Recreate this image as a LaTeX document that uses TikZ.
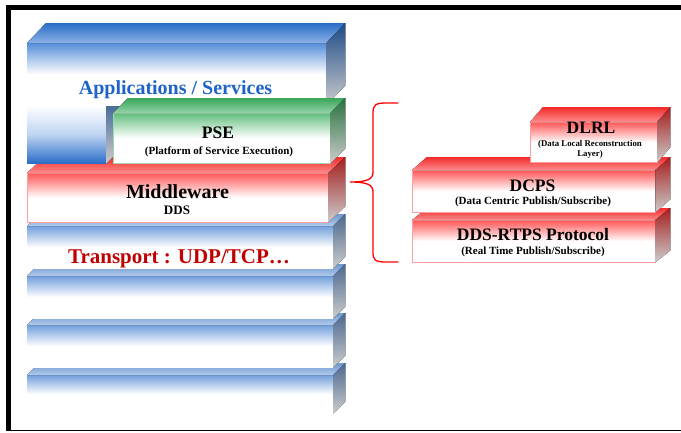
\documentclass[tikz,border=0pt]{standalone}
\usepackage{fontspec}
\setmainfont{Liberation Serif}
\usepackage{tikz}
\usetikzlibrary{positioning}
\definecolor{appblue}{RGB}{45,115,210}
\definecolor{slabblue}{RGB}{115,160,220}
\definecolor{textblue}{RGB}{30,100,200}
\definecolor{psegreen}{RGB}{60,175,95}
\definecolor{layred}{RGB}{255,45,45}
\definecolor{darkred}{RGB}{192,0,0}
\tikzset{
    %front faces of the layers
    bluefront/.style={
           rectangle,
           inner sep=0pt,
           anchor=north west,
           top color=slabblue,
           bottom color=white,
           middle color=white},
    redfront/.style={
           rectangle,
           inner sep=0pt,
           anchor=north west,
           top color=layred!80,
           bottom color=white,
           middle color=white,
           draw=layred!45},
    greenfront/.style={
           rectangle,
           inner sep=0pt,
           anchor=north west,
           top color=psegreen!80,
           bottom color=white,
           middle color=white,
           draw=psegreen!50},
    %top and side faces
    topface/.style={
           top color=#1!95!black,
           bottom color=#1!55},
    sideface/.style={
           top color=#1!65!black,
           bottom color=black!20},
    %texts
    bigtxt/.style={
           inner sep=0pt,
           anchor=base,
           font=\bfseries\fontsize{20}{22}\selectfont},
    midtxt/.style={
           inner sep=0pt,
           anchor=base,
           font=\bfseries\fontsize{17.5}{20}\selectfont},
    smalltxt/.style={
           inner sep=0pt,
           anchor=base,
           font=\bfseries\fontsize{11}{12}\selectfont},
    tinytxt/.style={
           inner sep=0pt,
           anchor=base,
           font=\bfseries\fontsize{8.8}{10}\selectfont},
    bracket/.style={
           draw=red,
           line width=1.3pt,
           line cap=round}
}
\begin{document}
\begin{tikzpicture}[x=1pt,y=-1pt]
\useasboundingbox (0,0) rectangle (681,432);
%frame
\fill[black] (6,5) rectangle (681,10);
\fill[black] (6,5) rectangle (11,431);
\draw[black,line width=1pt] (6,430.5) -- (681,430.5);

%transport layers, lowest first
\node[bluefront, minimum width=306pt, minimum height=38pt] (slab4) at (27,375) {};
\fill[topface=slabblue] (slab4.north west) -- ++(12,-12) -- ([shift={(12,-12)}]slab4.north east) -- (slab4.north east) -- cycle;
\fill[sideface=slabblue] (slab4.north east) -- ++(12,-12) -- ([shift={(12,-12)}]slab4.south east) -- (slab4.south east) -- cycle;

\node[bluefront, minimum width=306pt, minimum height=42pt] (slab3) at (27,325) {};
\fill[topface=slabblue] (slab3.north west) -- ++(12,-12) -- ([shift={(12,-12)}]slab3.north east) -- (slab3.north east) -- cycle;
\fill[sideface=slabblue] (slab3.north east) -- ++(12,-12) -- ([shift={(12,-12)}]slab3.south east) -- (slab3.south east) -- cycle;

\node[bluefront, minimum width=306pt, minimum height=42pt] (slab2) at (27,276) {};
\fill[topface=slabblue] (slab2.north west) -- ++(12,-12) -- ([shift={(12,-12)}]slab2.north east) -- (slab2.north east) -- cycle;
\fill[sideface=slabblue] (slab2.north east) -- ++(12,-12) -- ([shift={(12,-12)}]slab2.south east) -- (slab2.south east) -- cycle;

\node[bluefront, minimum width=306pt, minimum height=42pt] (slab1) at (27,226) {};
\fill[topface=slabblue] (slab1.north west) -- ++(12,-12) -- ([shift={(12,-12)}]slab1.north east) -- (slab1.north east) -- cycle;
\fill[sideface=slabblue] (slab1.north east) -- ++(12,-12) -- ([shift={(12,-12)}]slab1.south east) -- (slab1.south east) -- cycle;

%middleware
\node[redfront, minimum width=301pt, minimum height=49pt] (mw) at (27,173) {};
\fill[topface=layred] (mw.north west) -- ++(17,-16) -- ([shift={(17,-16)}]mw.north east) -- (mw.north east) -- cycle;
\fill[sideface=layred] (mw.north east) -- ++(17,-16) -- ([shift={(17,-16)}]mw.south east) -- (mw.south east) -- cycle;

%applications, leg and upper bar
\node[rectangle, inner sep=0pt, anchor=north west, top color=white, bottom color=appblue!95!black, middle color=appblue!30,
      minimum width=79pt, minimum height=58pt] (appleg) at (27,105) {};
\fill[sideface=appblue] (appleg.north east) -- (appleg.south east) -- ++(19,-19) -- ([shift={(19,-19)}]appleg.north east) -- cycle;
\node[rectangle, inner sep=0pt, anchor=north west, top color=appblue!80, bottom color=white, middle color=white,
      minimum width=299pt, minimum height=62pt] (app) at (27,43) {};
\fill[topface=appblue] (app.north west) -- ++(19,-20) -- ([shift={(19,-20)}]app.north east) -- (app.north east) -- cycle;
\fill[sideface=appblue] (app.north east) -- ++(19,-20) -- ([shift={(19,-20)}]app.south east) -- (app.south east) -- cycle;

%pse
\node[greenfront, minimum width=217pt, minimum height=50pt] (pse) at (113,113) {};
\fill[topface=psegreen] (pse.north west) -- ++(15,-15) -- ([shift={(15,-15)}]pse.north east) -- (pse.north east) -- cycle;
\fill[sideface=psegreen] (pse.north east) -- ++(15,-15) -- ([shift={(15,-15)}]pse.south east) -- (pse.south east) -- cycle;

%dds stack
\node[redfront, minimum width=243pt, minimum height=42pt] (rtps) at (412,220) {};
\fill[topface=layred] (rtps.north west) -- ++(15,-12) -- ([shift={(15,-12)}]rtps.north east) -- (rtps.north east) -- cycle;
\fill[sideface=layred] (rtps.north east) -- ++(15,-12) -- ([shift={(15,-12)}]rtps.south east) -- (rtps.south east) -- cycle;

\node[redfront, minimum width=243pt, minimum height=42pt] (dcps) at (412,170) {};
\fill[topface=layred] (dcps.north west) -- ++(15,-13) -- ([shift={(15,-13)}]dcps.north east) -- (dcps.north east) -- cycle;
\fill[sideface=layred] (dcps.north east) -- ++(15,-13) -- ([shift={(15,-13)}]dcps.south east) -- (dcps.south east) -- cycle;

\node[redfront, minimum width=127pt, minimum height=40pt] (dlrl) at (530,122) {};
\fill[topface=layred] (dlrl.north west) -- ++(13,-15) -- ([shift={(13,-15)}]dlrl.north east) -- (dlrl.north east) -- cycle;
\fill[sideface=layred] (dlrl.north east) -- ++(13,-15) -- ([shift={(13,-15)}]dlrl.south east) -- (dlrl.south east) -- cycle;

%brace
\draw[bracket] (398,103) -- (386,103) .. controls (375,103) and (373,105) .. (373,114)
    -- (373,172) .. controls (373,179) and (368,182) .. (350,182)
    .. controls (368,182) and (373,185) .. (373,192)
    -- (373,252) .. controls (373,260) and (375,262) .. (386,262) -- (398,262);

%labels
\node[bigtxt, text=textblue] (apptxt) at (175.5,94) {Applications / Services};
\node[midtxt] (psetxt) at (218,138) {PSE};
\node[smalltxt] (psesub) at (219,154) {(Platform of Service Execution)};
\node[bigtxt] (mwtxt) at (177.5,198) {Middleware};
\node[inner sep=0pt, anchor=base, font=\bfseries\fontsize{13}{14}\selectfont] (mwsub) at (177,214) {DDS};
\node[bigtxt, text=darkred, font=\bfseries\fontsize{21}{23}\selectfont] (trtxt) at (179,263) {Transport : UDP/TCP…};
\node[midtxt] (dlrltxt) at (591,133) {DLRL};
\node[tinytxt] (dlrlsub) at (590,146.5) {(Data Local Reconstruction};
\node[tinytxt] (dlrlsub2) at (590,156) {Layer)};
\node[midtxt] (dcpstxt) at (532.5,191) {DCPS};
\node[smalltxt] (dcpssub) at (533,204) {(Data Centric Publish/Subscribe)};
\node[midtxt] (rtpstxt) at (533,240) {DDS-RTPS Protocol};
\node[smalltxt] (rtpssub) at (533,254) {(Real Time Publish/Subscribe)};
\end{tikzpicture}
\end{document}
